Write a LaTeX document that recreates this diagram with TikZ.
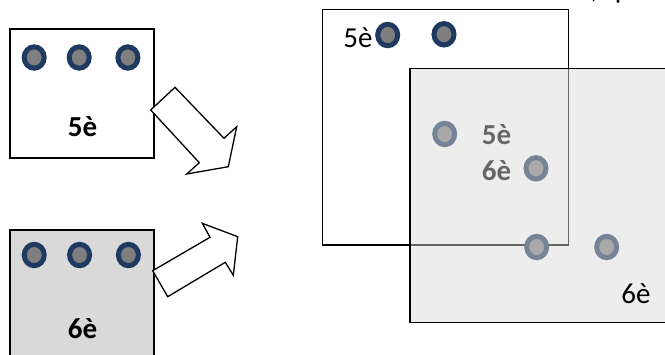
\documentclass[tikz,border=0pt]{standalone}
\usepackage{fontspec}
\setmainfont{Carlito}
\usetikzlibrary{shapes.geometric}
\definecolor{ring}{HTML}{1F3A60}
\definecolor{dotfill}{HTML}{7F7F7F}
\definecolor{boxgray}{HTML}{D9D9D9}
\begin{document}
\begin{tikzpicture}[x=1pt,y=-1pt,
  dot/.style={ellipse,draw=ring,fill=dotfill,line width=5pt,minimum width=20pt,minimum height=21.4pt,inner sep=0pt},
  frame/.style={draw=black,line width=1.4pt,inner sep=0pt},
  lbl/.style={font=\fontsize{29}{32}\selectfont,inner sep=0pt,anchor=base},
  blbl/.style={inner sep=0pt,anchor=base,font=\fontsize{29}{32}\selectfont\bfseries},
  blockarrow/.style={draw=black,fill=white,line width=1.3pt,line join=miter}]
\useasboundingbox (0,0) rectangle (665,354);
\begin{scope}
\clip (0,0) rectangle (665,354);
% left boxes
\node[frame,fill=white,minimum width=144pt,minimum height=129pt] (box5) at (82,93.5) {};
\node[frame,fill=boxgray,minimum width=144pt,minimum height=150pt] (box6) at (82,305) {};
\node[dot] (a1) at (34.2,57.5) {};
\node[dot] (a2) at (79.2,57.5) {};
\node[dot] (a3) at (127.9,57.5) {};
\node[dot] (b1) at (34.2,255) {};
\node[dot] (b2) at (79.6,255) {};
\node[dot] (b3) at (128.4,255) {};
\node[blbl] (t5) at (82.5,136.7) {5è};
\node[blbl] (t6) at (82.5,338) {6è};
% block arrows
\draw[blockarrow] (150.7,110) -- (175,87.3) -- (224,138.3) -- (236.7,126.7) -- (228.3,166.7) -- (186.7,174) -- (199.3,162.7) -- cycle;
\draw[blockarrow] (152.7,270.7) -- (210,237.3) -- (202.3,223.3) -- (237.7,236.7) -- (233.3,275.3) -- (225.3,262.3) -- (167.7,296.7) -- cycle;
% right: merged boxes
\node[frame,minimum width=246pt,minimum height=235.7pt] (boxA) at (445.7,127.2) {};
\node[dot] (c1) at (387.7,35) {};
\node[dot] (c2) at (444,34.3) {};
\node[lbl] (r5) at (358,47.7) {5è};
\node[dot] (d1) at (444.7,134) {};
\node[dot] (d2) at (536,168.3) {};
\node[dot] (d3) at (536.7,247) {};
\node[dot] (d4) at (606.7,247) {};
\node[blbl] (m5) at (496.5,144) {5è};
\node[blbl] (m6) at (496.5,180) {6è};
\node[frame,fill=boxgray,fill opacity=0.47,minimum width=300pt,minimum height=254.4pt] (boxB) at (560,195.5) {};
\node[lbl] (r6) at (636,303.3) {6è};
% text fragment cut off at the top edge, as in the reference
\node[lbl,anchor=base west] (frag) at (590.5,-2) {,\hspace{17pt}p};
\end{scope}
\end{tikzpicture}
\end{document}
